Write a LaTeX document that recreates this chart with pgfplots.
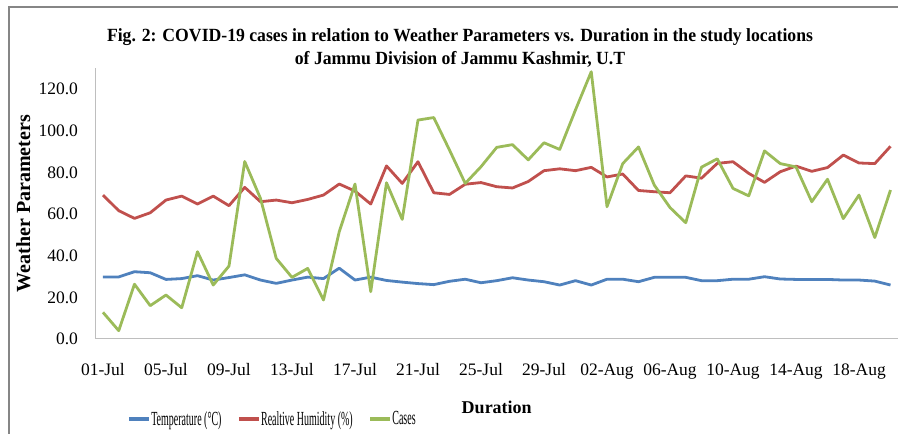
\documentclass[border=0pt]{standalone}
\usepackage{fontspec}
\setmainfont{Liberation Serif}
\newfontfamily\titlefont{Liberation Serif}[FakeStretch=0.95]
\newfontfamily\legfont{Liberation Serif}[FakeStretch=0.50]
\usepackage{pgfplots}
\pgfplotsset{compat=1.18}
\usepackage{pgfplotstable}
\definecolor{tblue}{RGB}{79,129,189}
\definecolor{hred}{RGB}{192,80,77}
\definecolor{cgreen}{RGB}{155,187,89}
\definecolor{framegray}{RGB}{134,134,134}
\definecolor{axgray}{RGB}{190,190,190}

\pgfplotstableread{
day temp rh cases
0 29.8 69.1 12.8
1 29.8 61.6 4.0
2 32.3 57.9 26.3
3 31.8 60.6 16.0
4 28.6 66.7 21.1
5 29.0 68.6 15.0
6 30.4 64.8 41.9
7 28.3 68.6 25.9
8 29.5 64.0 35.0
9 30.8 72.8 85.2
10 28.3 65.9 67.5
11 26.7 66.7 38.7
12 28.3 65.4 29.6
13 29.7 67.0 33.9
14 29.0 69.1 18.7
15 34.0 74.4 51.5
16 28.3 71.0 74.4
17 29.7 64.8 22.7
18 28.1 83.1 75.0
19 27.3 74.7 57.4
20 26.6 85.1 105.1
21 26.1 70.2 106.3
22 27.7 69.4 90.7
23 28.7 74.3 74.7
24 27.0 75.1 82.7
25 28.0 73.1 92.0
26 29.4 72.5 93.3
27 28.3 75.6 86.0
28 27.5 80.8 94.2
29 25.9 81.7 91.0
30 28.0 80.8 110.0
31 25.9 82.4 128.3
32 28.7 77.8 63.5
33 28.7 79.2 84.2
34 27.5 71.3 92.2
35 29.6 70.7 73.9
36 29.6 70.2 63.1
37 29.6 78.3 55.8
38 28.0 77.2 82.5
39 28.0 84.3 86.5
40 28.7 85.1 72.3
41 28.7 79.5 68.7
42 29.9 75.2 90.3
43 28.8 80.3 84.2
44 28.6 83.0 82.6
45 28.6 80.5 65.9
46 28.6 82.3 76.7
47 28.3 88.3 57.8
48 28.3 84.5 69.1
49 27.8 84.2 48.7
50 25.9 92.5 71.5
}\data

\begin{document}
\begin{tikzpicture}[x=1pt,y=1pt]
\useasboundingbox (0,0) rectangle (898,434);
\draw[framegray, line width=1.2pt] (9,0) -- (9,427) -- (898,427);
\node[anchor=base, inner sep=0pt, font=\titlefont\bfseries\fontsize{18.6pt}{23pt}\selectfont] at (460,392) {Fig. 2: COVID-19 cases in relation to Weather Parameters vs. Duration in the study locations};
\node[anchor=base, inner sep=0pt, font=\titlefont\bfseries\fontsize{18.6pt}{23pt}\selectfont] at (460,369) {of Jammu Division of Jammu Kashmir, U.T};
\begin{axis}[
  at={(95.1pt,95pt)}, anchor=south west,
  scale only axis, width=803.3pt, height=270.8pt,
  xmin=-0.5, xmax=50.5, ymin=0, ymax=130,
  axis x line*=bottom, axis y line*=left,
  axis line style={draw=axgray, line width=1pt, -},
  major tick length=0pt,
  xtick={0,4,...,48},
  xticklabels={01-Jul,05-Jul,09-Jul,13-Jul,17-Jul,21-Jul,25-Jul,29-Jul,02-Aug,06-Aug,10-Aug,14-Aug,18-Aug},
  ytick={0,20,...,120},
  /pgf/number format/assume math mode=true,
  yticklabel style={/pgf/number format/fixed, /pgf/number format/fixed zerofill, /pgf/number format/precision=1, anchor=east, inner sep=0pt, xshift=-17pt},
  xticklabel style={anchor=base, inner sep=0pt, yshift=-37pt},
  tick label style={font=\fontsize{17.5pt}{20pt}\selectfont},
  xlabel={Duration},
  xlabel style={at={(axis description cs:0.5,-0.2733)}, anchor=base, inner sep=0pt, font=\bfseries\fontsize{18pt}{20pt}\selectfont},
  ylabel={Weather Parameters},
  ylabel style={at={(axis description cs:-0.081,0.5)}, anchor=base, inner sep=0pt, font=\bfseries\fontsize{20pt}{22pt}\selectfont},
  legend columns=3,
  legend style={draw=none, fill=none, at={(axis description cs:0.0397,-0.2954)}, anchor=west, inner sep=0pt,
    font=\legfont\fontsize{20pt}{22pt}\selectfont,
    nodes={inner sep=0.5pt},
    /tikz/every even column/.append style={column sep=15pt}},
  legend image code/.code={\draw[#1, line width=3.6pt] (0pt,0pt) -- (20pt,0pt);},
  every axis plot/.append style={line width=2.8pt, line join=round, mark=none},
]
\addplot[tblue] table[x=day, y=temp] {\data};
\addlegendentry{Temperature (°C)}
\addplot[hred] table[x=day, y=rh] {\data};
\addlegendentry{Realtive Humidity (\%)}
\addplot[cgreen] table[x=day, y=cases] {\data};
\addlegendentry{Cases}
\end{axis}
\end{tikzpicture}
\end{document}
